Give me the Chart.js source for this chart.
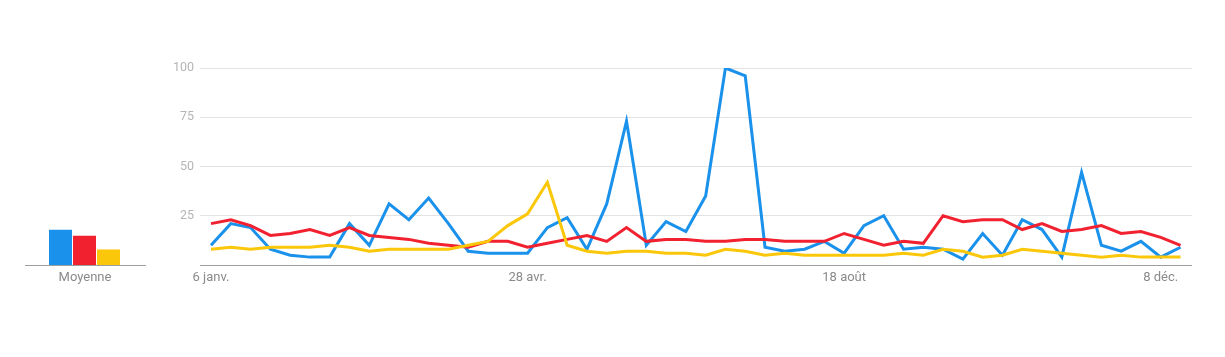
<!DOCTYPE html>
<html>
<head>
<meta charset="utf-8">
<script src="https://cdn.jsdelivr.net/npm/chart.js@4/dist/chart.umd.min.js"></script>
<style>
  html, body { margin: 0; padding: 0; background: #fff; }
  #wrap { position: relative; width: 1225px; height: 357px; overflow: hidden; }
  #bars { position: absolute; left: 0; top: 0; }
  #lines { position: absolute; left: 160px; top: 0; }
</style>
</head>
<body>
<div id="wrap">
  <canvas id="bars" width="160" height="357"></canvas>
  <canvas id="lines" width="1065" height="357"></canvas>
</div>
<script>
// ---- data ----
const weekIndex = [0,1,2,3,4,5,6,7,8,9,10,11,12,13,14,15,16,17,18,19,20,21,22,23,24,25,26,27,28,29,30,31,32,33,34,35,36,37,38,39,40,41,42,43,44,45,46,47,48,49];
const blueSeries = [10,21,19,8,5,4,4,21,10,31, 23,34,21,7,6,6,6,19,24,8, 31,73,10,22,17,35,100,96,9,7, 8,12,6,20,25,8,9,8,3,16, 5,23,18,4,47,10,7,12,4,9];
const redSeries = [21,23,20,15,16,18,15,19,15,14, 13,11,10,9,12,12,9,11,13,15, 12,19,12,13,13,12,12,13,13,12, 12,12,16,13,10,12,11,25,22,23, 23,18,21,17,18,20,16,17,14,10];
const yellowSeries = [8,9,8,9,9,9,10,9,7,8, 8,8,8,10,12,20,26,42,10,7, 6,7,7,6,6,5,8,7,5,6, 5,5,5,5,5,6,5,8,7,4, 5,8,7,6,5,4,5,4,4,4];
const xTickPositions = [0, 16, 32, 48];
const xTickLabels = ['6 janv.', '28 avr.', '18 août', '8 déc.'];
const yTickValues = [0, 25, 50, 75, 100];
const averageLabel = ['Moyenne'];
const averages = [18, 15, 8];

const COLORS = ['#1a91eb', '#f2212f', '#fbc70a'];
const FONT = 'Roboto';

// ---- line chart ----
function pts(arr) { return arr.map((v, i) => ({ x: weekIndex[i], y: v })); }

new Chart(document.getElementById('lines'), {
  type: 'line',
  data: {
    datasets: [
      { data: pts(blueSeries), borderColor: COLORS[0], order: 2 },
      { data: pts(redSeries), borderColor: COLORS[1], order: 1 },
      { data: pts(yellowSeries), borderColor: COLORS[2], order: 0 }
    ].map(d => Object.assign(d, { borderWidth: 3, pointRadius: 0, tension: 0, fill: false, borderJoinStyle: 'miter', borderCapStyle: 'butt' }))
  },
  options: {
    responsive: false,
    animation: false,
    events: [],
    layout: { padding: { left: 0, right: 33, top: 68, bottom: 62 } },
    plugins: { legend: { display: false }, tooltip: { enabled: false } },
    scales: {
      x: {
        type: 'linear',
        min: -0.556,
        max: 49.58,
        afterBuildTicks: (s) => { s.ticks = xTickPositions.map(v => ({ value: v })); },
        afterFit: (s) => { s.height = 30; },
        grid: { display: false, drawTicks: false },
        border: { display: false },
        ticks: {
          autoSkip: false,
          maxRotation: 0,
          padding: 5,
          color: '#8a8a8a',
          font: { family: FONT, size: 13 },
          callback: (v) => { const k = xTickPositions.indexOf(v); return k >= 0 ? xTickLabels[k] : ''; }
        }
      },
      y: {
        min: 0,
        max: 100,
        afterBuildTicks: (s) => { s.ticks = yTickValues.map(v => ({ value: v })); },
        afterFit: (s) => { s.width = 40; },
        grid: {
          drawTicks: false,
          color: (c) => c.tick && c.tick.value === 0 ? '#9e9e9e' : '#e3e3e3',
          lineWidth: 1
        },
        border: { display: false },
        ticks: {
          padding: 6,
          color: '#b5b5b5',
          font: { family: FONT, size: 12.5 },
          callback: (v) => v === 0 ? '' : String(v)
        }
      }
    }
  }
});

// ---- average bars ----
new Chart(document.getElementById('bars'), {
  type: 'bar',
  data: {
    labels: averageLabel,
    datasets: averages.map((v, i) => ({
      data: [v],
      backgroundColor: COLORS[i],
      borderColor: '#ffffff',
      borderWidth: { left: 0, right: 1, top: 0, bottom: 0 },
      borderSkipped: false,
      categoryPercentage: 0.6,
      barPercentage: 1.0
    }))
  },
  options: {
    responsive: false,
    animation: false,
    events: [],
    layout: { padding: { left: 25, right: 15, top: 68, bottom: 62 } },
    plugins: { legend: { display: false }, tooltip: { enabled: false } },
    scales: {
      x: {
        afterFit: (s) => { s.height = 30; },
        grid: { display: false, drawTicks: false },
        border: { display: true, color: '#9e9e9e', width: 1 },
        ticks: { padding: 5, color: '#8a8a8a', font: { family: FONT, size: 13 } }
      },
      y: { display: false, min: 0, max: 100 }
    }
  }
});
</script>
</body>
</html>
